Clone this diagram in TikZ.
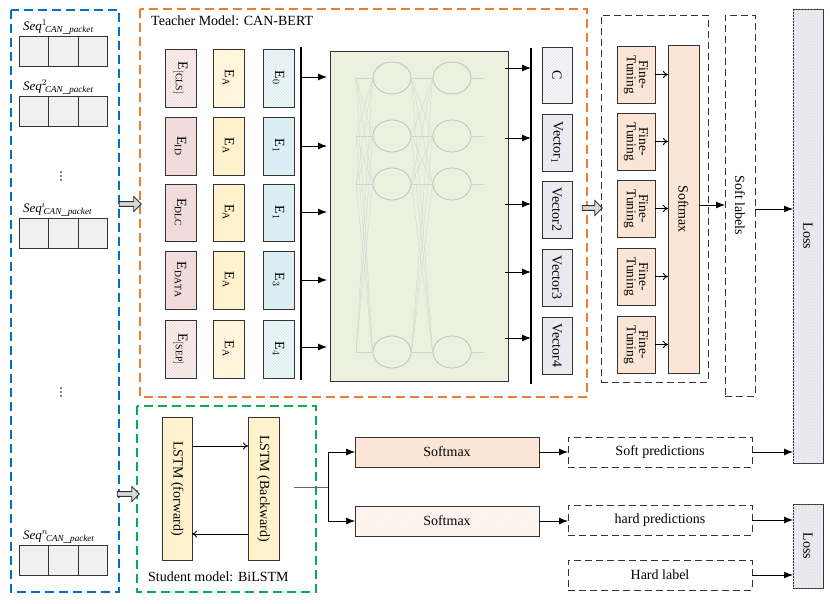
\documentclass[tikz,border=0pt]{standalone}
\usepackage{fontspec}
\setmainfont{Liberation Serif}
\usetikzlibrary{arrows.meta,patterns,shapes.arrows,shapes.geometric}
\definecolor{cpink}{HTML}{F2DCDB}
\definecolor{cyel}{HTML}{FFF2CC}
\definecolor{cblu}{HTML}{DAEEF3}
\definecolor{cgrn}{HTML}{EBF1DE}
\definecolor{cpea}{HTML}{FBE5D6}
\definecolor{clav}{HTML}{ECEAF1}
\definecolor{corg}{HTML}{ED7D31}
\definecolor{cbl}{HTML}{0070C0}
\definecolor{cgr}{HTML}{00B050}
\newcommand\bx[7]{\node[#6, minimum width={(#4-#2)*1pt}, minimum height={(#5-#3)*1pt}] (#1) at ({(#2+#4)/2},{(#3+#5)/2}) {#7};}
\newcommand\rt[1]{\rotatebox{-90}{#1}}
\begin{document}
\begin{tikzpicture}[x=1pt,y=-1pt,font=\fontsize{14}{15}\selectfont,
  box/.style={draw=black!80,inner sep=0pt,outer sep=0pt,line width=0.8pt},
  hat/.style={postaction={pattern=north east lines,pattern color=white,fill opacity=0.5},postaction={draw=black!80,line width=0.8pt}},
  cell/.style={box,fill=gray!12},
  dbox/.style={draw=black!80,dashed,dash pattern=on 7pt off 4pt,line width=0.9pt,inner sep=0pt,outer sep=0pt},
  arr/.style={-{Latex[length=9pt,width=7pt]},line width=0.9pt},
  oarr/.style={-{To[length=5pt,width=7pt]},line width=0.9pt},
  hollow/.style={single arrow,draw=black!80,fill=gray!30,line width=0.8pt,minimum height=22pt,minimum width=15pt,single arrow head extend=3pt,inner sep=1pt},
  neu/.style={draw=gray!50,line width=0.8pt,ellipse,minimum width=38pt,minimum height=32pt,inner sep=0pt},
  thin/.style={draw=gray!35,line width=0.3pt},
  lossb/.style={box,fill=clav,postaction={pattern=crosshatch dots,pattern color=gray!25}}]
\useasboundingbox (0,0) rectangle (830,604);
% frames
\draw[cbl,dashed,dash pattern=on 9pt off 5pt,line width=1.3pt] (11,10) rectangle (119,592);
\draw[corg,dashed,dash pattern=on 9pt off 5pt,line width=1.3pt] (140,9) rectangle (587,397);
\draw[cgr,dashed,dash pattern=on 9pt off 5pt,line width=1.3pt] (137,406) rectangle (316,592);
\node[anchor=west,inner sep=0pt] (ttl) at (151,21) {Teacher Model: CAN-BERT};
\node[anchor=west,inner sep=0pt] (stl) at (148,577) {Student model: BiLSTM};
% seq packets
\foreach \n/\lab/\y in {s1/1/36,s2/2/96,si/i/218,sn/n/545}{
  \node[anchor=south west,inner sep=0pt,font=\fontsize{13}{14}\selectfont] (\n l) at (23,\y-1) {$\mathit{Seq}^{\lab}\!{}_{\mathit{CAN\_packet}}$};
  \bx{\n a}{19}{\y}{48}{\y+30}{cell}{}
  \bx{\n b}{48}{\y}{78}{\y+30}{cell}{}
  \bx{\n c}{78}{\y}{107}{\y+30}{cell}{}
}
\foreach \yy in {172,176,180,388,392,396}{\fill (61,\yy) circle (0.9pt);}
\node[hollow] (h1) at (129,204) {};
\node[hollow] (h2) at (127,494) {};
\node[hollow,minimum height=20pt] (h3) at (591,208) {};
% embeddings
\foreach \r/\ya/\yb/\pa/\pb/\pc/\st in {1/49/107/{E$_{\mathrm{[CLS]}}$}/{E$_{\mathrm{A}}$}/{E$_{0}$}/hat,2/117/175/{E$_{\mathrm{ID}}$}/{E$_{\mathrm{A}}$}/{E$_{1}$}/,3/184/241/{E$_{\mathrm{DLC}}$}/{E$_{\mathrm{A}}$}/{E$_{1}$}/,4/251/309/{E$_{\mathrm{DATA}}$}/{E$_{\mathrm{A}}$}/{E$_{3}$}/,5/320/378/{E$_{\mathrm{[SEP]}}$}/{E$_{\mathrm{A}}$}/{E$_{4}$}/hat}{
  \bx{ep\r}{165}{\ya}{196}{\yb}{box,fill=cpink,\st}{\rt{\pa}}
  \bx{ey\r}{213}{\ya}{244}{\yb}{box,fill=cyel,\st}{\rt{\pb}}
  \bx{eb\r}{263}{\ya}{294}{\yb}{box,fill=cblu,\st}{\rt{\pc}}
}
\coordinate (lt) at (301,47); \coordinate (lb) at (301,380);
\draw[line width=1.6pt] (lt) -- (lb);
\bx{net}{330}{51}{508}{381}{box,fill=cgrn}{}
\foreach \y/\i in {77/1,146/2,212/3,280/4,347/5}{
  \coordinate (ia\i) at (301,\y); \coordinate (ib\i) at (327,\y);
  \draw[arr] (ia\i) -- (ib\i);}
% neural net
\foreach \y/\i in {78/1,136/2,184/3,352/4}{
  \coordinate (p\i) at (356,\y); \coordinate (q\i) at (484,\y);}
\foreach \y/\i in {78/1,136/2,184/3,352/4}{
  \node[neu] (a\i) at (392,\y) {}; \node[neu] (b\i) at (452,\y) {};}
\foreach \i in {1,2,3,4}{\foreach \j in {1,2,3,4}{
  \draw[thin] (p\i) -- (a\j.west); \draw[thin] (a\i.east) -- (b\j.west);}
  \draw[thin] (b\i.east) -- (q\i);}
% outputs
\coordinate (ot) at (531,48); \coordinate (ob) at (531,384);
\draw[line width=1.6pt] (ot) -- (ob);
\foreach \y/\i in {68/1,138/2,204/3,272/4,338/5}{
  \coordinate (oa\i) at (505,\y); \coordinate (obb\i) at (531,\y);
  \draw[arr] (oa\i) -- (obb\i);}
\bx{v1}{542}{47}{572}{103}{box,fill=clav,hat}{\rt{C}}
\bx{v2}{542}{114}{572}{171}{box,fill=clav}{\rt{Vector$_1$}}
\bx{v3}{542}{181}{572}{238}{box,fill=clav}{\rt{Vector2}}
\bx{v4}{542}{249}{572}{306}{box,fill=clav}{\rt{Vector3}}
\bx{v5}{542}{317}{572}{374}{box,fill=clav}{\rt{Vector4}}
% fine tuning
\bx{ftf}{601}{15}{708}{382}{dbox}{}
\bx{sm}{668}{45}{699}{373}{box,fill=cpea}{\rt{Softmax}}
\foreach \ya/\i in {46/1,113/2,180/3,248/4,316/5}{
  \bx{ft\i}{617}{\ya}{655}{\ya+57}{box,fill=cpea}{\rt{\fontsize{13.5}{14}\selectfont\shortstack{Fine-\\Tuning}}}
  \draw[oarr] (ft\i.east) -- (ft\i.east -| sm.west);}
\bx{sl}{725}{15}{755}{396}{dbox}{\rt{Soft labels}}
\draw[arr] (sm.east |- 0,205) -- (sl.west |- 0,205);
\bx{loss1}{793}{9}{823}{463}{lossb}{\rt{Loss}}
\bx{loss2}{793}{504}{823}{588}{lossb}{\rt{Loss}}
\draw[arr] (sl.east |- 0,209) -- (loss1.west |- 0,209);
% student
\bx{lf}{162}{417}{192}{560}{box,fill=cyel}{\rt{LSTM (forward)}}
\bx{lb2}{248}{417}{279}{560}{box,fill=cyel}{\rt{LSTM (Backward)}}
\draw[oarr] (lf.east |- 0,446) -- (lb2.west |- 0,446);
\draw[oarr] (lb2.west |- 0,534) -- (lf.east |- 0,534);
\bx{sm1}{355}{437}{539}{467}{box,fill=cpea}{Softmax}
\bx{sm2}{355}{506}{539}{536}{box,fill=cpea!60,hat}{Softmax}
\coordinate (st) at (294,487); \coordinate (br) at (328,487);
\draw[line width=0.5pt,gray!80!black] (st) -- (br);
\draw[arr,line width=0.6pt] (br) |- (sm1.west);
\draw[arr,line width=0.6pt] (br) |- (sm2.west);
\bx{sp}{568}{437}{752}{467}{dbox}{Soft predictions}
\bx{hp}{568}{505}{752}{535}{dbox}{hard predictions}
\bx{hl}{568}{560}{752}{590}{dbox}{Hard label}
\draw[arr] (sm1) -- (sp);
\draw[arr] (sm2.east) -- (sm2.east -| hp.west);
\draw[arr] (sp.east) -- (sp.east -| loss1.west);
\draw[arr] (hp.east) -- (hp.east -| loss2.west);
\draw[arr] (hl.east) -- (hl.east -| loss2.west);
\end{tikzpicture}
\end{document}
